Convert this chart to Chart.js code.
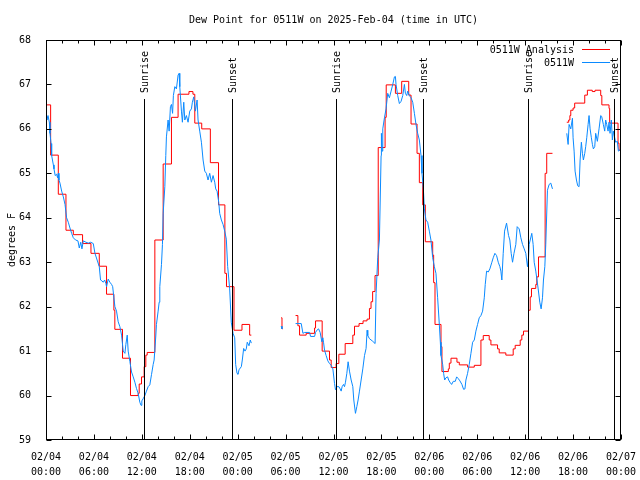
<!DOCTYPE html>
<html>
<head>
<meta charset="utf-8">
<script src="https://cdn.jsdelivr.net/npm/chart.js@4.4.1/dist/chart.umd.min.js"></script>
<style>
  html, body { margin: 0; background: #fff; }
  #wrap { width: 640px; height: 480px; }
</style>
</head>
<body>
<div id="wrap"><canvas id="dew"></canvas></div>
<script>
// hours after 02/04 00:00 UTC
const xTickDays  = ["02/04","02/04","02/04","02/04","02/05","02/05","02/05","02/05","02/06","02/06","02/06","02/06","02/07"];
const xTickTimes = ["00:00","06:00","12:00","18:00","00:00","06:00","12:00","18:00","00:00","06:00","12:00","18:00","00:00"];

const sunriseHours = [12.3, 36.33, 60.3];
const sunsetHours  = [23.25, 47.25, 71.17];

// analysis (red), step values that start at each hour mark
const analysisHours = [
  0, 0.58, 1.54, 2.5, 3.42, 4.58, 5.63, 6.67, 7.58, 8.5,
  8.62, 9.58, 10.58, 11.54, 11.67, 11.96, 12.29, 12.5, 12.67, 13.63,
  14.67, 15.71, 16.54, 17.9, 18.4, 18.63, 19.5, 20.58, 21.6, 22.4,
  22.6, 23.54, 24.54, 25.5, 25.71, 27.5, 29.45, 29.55, 29.62, 30.5,
  31.25, 31.54, 31.75, 32.58, 33.63, 33.75, 34.58, 35.5, 35.71, 36.33,
  36.67, 37.46, 38.42, 38.63, 39.2, 39.7, 40.2, 40.5, 40.7, 40.9,
  41.2, 41.6, 42.46, 42.6, 43.75, 44.54, 45.42, 45.71, 46.46, 46.75,
  47.17, 47.5, 48.42, 48.54, 48.71, 49.46, 49.58, 50.38, 50.5, 50.71,
  51.46, 51.75, 52.79, 53.63, 54.46, 54.75, 55.5, 55.71, 56.54, 56.75,
  57.58, 58.5, 58.75, 59.38, 59.58, 59.79, 60.42, 60.63, 60.79, 61.33,
  61.46, 61.67, 62.5, 62.7, 63.42, 64.3, 65.21, 65.45, 65.6, 65.71,
  66.0, 66.2, 67.46, 67.79, 68.4, 68.75, 69.46, 69.6, 70.5, 70.58,
  71.63, 71.75, 72
];
const analysisDew = [
  66.54, 65.41, 64.53, 63.72, 63.62, 63.42, 63.2, 62.91, 62.28, 61.92,
  61.49, 60.84, 60.0, 60.05, 60.26, 60.42, 60.65, 60.91, 60.97, 63.5,
  65.21, 66.26, 66.78, 66.84, 66.78, 66.13, 66.0, 65.24, 64.29, 62.75,
  62.45, 61.47, 61.6, 61.36, 61.36, null, 61.75, 61.5, 61.5, null,
  61.8, 61.57, 61.36, 61.4, 61.52, 61.68, 61.0, 60.8, 60.63, 60.72,
  60.93, 61.17, 61.36, 61.56, 61.62, 61.68, 61.72, 61.96, 62.11, 62.34,
  62.7, 65.58, 66.26, 66.99, 66.8, 67.07, 66.76, 66.11, 65.45, 64.79,
  64.29, 63.46, 63.16, 62.54, 61.6, 61.1, 60.54, 60.6, 60.73, 60.84,
  60.75, 60.69, 60.64, 60.68, 61.25, 61.35, 61.25, 61.14, 61.05, 60.96,
  60.91, 61.05, 61.13, 61.25, 61.36, 61.45, 61.92, 62.22, 62.41, 62.5,
  62.67, 63.12, 65.0, 65.45, 65.45, null, 66.15, 66.2, 66.3, 66.42,
  66.47, 66.58, 66.76, 66.87, 66.84, 66.87, 66.75, 66.54, 66.46, 66.13,
  65.68, 65.52, 65.52
];

// station observations (blue)
const observedHours = [
  0, 0.1, 0.25, 0.42, 0.5, 0.63, 0.71, 0.92, 1.0, 1.15,
  1.33, 1.45, 1.54, 1.62, 1.75, 1.96, 2.17, 2.38, 2.58, 2.79,
  3.0, 3.21, 3.42, 3.7, 4.0, 4.17, 4.35, 4.5, 4.67, 5.0,
  5.3, 5.6, 5.92, 6.13, 6.4, 6.67, 6.83, 7.0, 7.17, 7.35,
  7.5, 7.58, 7.79, 8.0, 8.21, 8.35, 8.5, 8.63, 8.83, 9.04,
  9.25, 9.46, 9.67, 9.88, 10.0, 10.17, 10.29, 10.5, 10.71, 10.92,
  11.13, 11.33, 11.54, 11.75, 11.9, 12.0, 12.17, 12.38, 12.58, 12.79,
  13.0, 13.21, 13.42, 13.54, 13.75, 13.83, 14.04, 14.17, 14.25, 14.46,
  14.58, 14.67, 14.88, 15.0, 15.08, 15.29, 15.42, 15.58, 15.71, 15.85,
  15.95, 16.13, 16.33, 16.54, 16.67, 16.75, 16.96, 17.08, 17.25, 17.38,
  17.58, 17.79, 18.0, 18.21, 18.33, 18.5, 18.71, 18.92, 19.04, 19.25,
  19.46, 19.67, 19.88, 20.08, 20.29, 20.5, 20.71, 20.92, 21.13, 21.25,
  21.42, 21.63, 21.75, 21.96, 22.17, 22.38, 22.58, 22.75, 23.0, 23.2,
  23.42, 23.63, 23.75, 23.92, 24.04, 24.17, 24.33, 24.46, 24.58, 24.75,
  24.92, 25.08, 25.2, 25.42, 25.58, 25.71, 27.5, 29.45, 29.55, 30.5,
  31.25, 31.96, 32.17, 32.38, 33.0, 33.13, 33.63, 33.75, 33.92, 34.13,
  34.33, 34.54, 34.67, 34.75, 34.88, 35.08, 35.29, 35.5, 35.71, 35.92,
  36.13, 36.25, 36.42, 36.67, 36.83, 36.96, 37.08, 37.25, 37.38, 37.5,
  37.67, 37.83, 38.0, 38.21, 38.42, 38.54, 38.75, 38.92, 39.08, 39.25,
  39.46, 39.67, 39.88, 40.08, 40.21, 40.29, 40.5, 40.92, 41.21, 41.33,
  41.54, 41.75, 41.96, 42.0, 42.08, 42.17, 42.38, 42.58, 42.79, 43.0,
  43.21, 43.42, 43.63, 43.75, 43.83, 44.04, 44.25, 44.46, 44.67, 44.88,
  45.0, 45.17, 45.29, 45.5, 45.71, 45.92, 46.13, 46.33, 46.54, 46.75,
  46.96, 47.08, 47.25, 47.38, 47.58, 47.79, 48.0, 48.2, 48.42, 48.63,
  48.83, 49.04, 49.25, 49.38, 49.46, 49.67, 49.79, 49.92, 50.08, 50.29,
  50.42, 50.58, 50.79, 51.0, 51.25, 51.42, 51.63, 51.83, 52.08, 52.29,
  52.46, 52.58, 52.79, 53.0, 53.21, 53.42, 53.63, 53.83, 54.04, 54.25,
  54.46, 54.67, 54.88, 55.0, 55.17, 55.38, 55.58, 55.83, 56.0, 56.21,
  56.42, 56.63, 56.83, 56.96, 57.08, 57.25, 57.42, 57.67, 57.92, 58.08,
  58.25, 58.42, 58.6, 58.83, 59.0, 59.25, 59.46, 59.67, 59.88, 60.08,
  60.29, 60.42, 60.5, 60.83, 61.0, 61.13, 61.33, 61.63, 61.83, 62.0,
  62.17, 62.29, 62.46, 62.58, 62.79, 63.0, 63.21, 63.42, 64.3,
  65.21, 65.38, 65.5, 65.71, 65.92, 66.0, 66.13, 66.25, 66.42, 66.58,
  66.75, 66.88, 67.04, 67.17, 67.29, 67.46, 67.58, 67.71, 67.88, 68.0,
  68.13, 68.29, 68.42, 68.54, 68.71, 68.83, 69.04, 69.25, 69.46, 69.58,
  69.79, 69.96, 70.08, 70.21, 70.38, 70.5, 70.63, 70.79, 70.92, 71.04,
  71.21, 71.33, 71.54, 71.67, 72
];
const observedDew = [
  66.27, 66.2, 66.3, 66.15, 65.9, 65.67, 65.4, 65.19, 65.1, 64.95,
  64.98, 64.9, 65.0, 64.85, 64.78, 64.6, 64.47, 64.3, 64.0, 63.9,
  63.77, 63.65, 63.55, 63.5, 63.48, 63.32, 63.45, 63.3, 63.48, 63.45,
  63.43, 63.45, 63.42, 63.2, 63.05, 62.9, 62.6, 62.58, 62.55, 62.6,
  62.52, 62.45, 62.62, 62.55, 62.5, 62.45, 62.2, 62.0, 61.9, 61.66,
  61.55, 61.36, 61.0, 60.95, 61.15, 61.36, 61.0, 60.77, 60.53, 60.42,
  60.3, 60.16, 60.05, 59.85, 59.78, 59.88, 59.93, 60.0, 60.1, 60.2,
  60.24, 60.47, 60.7, 60.8, 61.34, 61.6, 61.9, 62.1, 62.45, 62.95,
  63.4, 64.1, 64.7, 65.4, 65.82, 66.2, 65.95, 66.5, 66.55, 66.35,
  66.75, 66.95, 66.9, 67.21, 67.25, 66.95, 66.4, 66.15, 66.6, 66.2,
  66.3, 66.15, 66.4, 66.45, 66.6, 66.72, 66.4, 66.65, 66.2, 65.95,
  65.7, 65.3, 65.05, 65.0, 64.85, 65.0, 64.8, 64.95, 64.8, 64.65,
  64.6, 64.35, 64.1, 63.95, 63.85, 63.7, 63.52, 62.9, 62.4, 61.65,
  61.4, 61.3, 60.7, 60.5, 60.48, 60.58, 60.62, 60.65, 60.8, 61.06,
  61.0, 61.05, 61.2, 61.12, 61.25, 61.18, null, 61.56, 61.5, null,
  61.62, 61.62, 61.4, 61.42, 61.42, 61.33, 61.33, 61.42, 61.47, 61.5,
  61.42, 61.21, 61.3, 61.2, 61.02, 60.9, 60.78, 60.72, 60.68, 60.6,
  60.27, 60.13, 60.2, 60.2, 60.15, 60.1, 60.2, 60.25, 60.2, 60.3,
  60.5, 60.76, 60.55, 60.35, 60.2, 59.9, 59.6, 59.75, 59.9, 60.1,
  60.35, 60.6, 60.9, 61.06, 61.47, 61.35, 61.28, 61.22, 61.17, 62.3,
  63.1, 63.5, 65.4, 65.9, 65.5, 66.0, 66.25, 66.45, 66.8, 66.7,
  66.85, 67.0, 67.17, 67.18, 67.0, 66.75, 66.57, 66.62, 66.75, 67.0,
  66.8, 66.75, 66.85, 66.75, 66.7, 66.6, 66.35, 66.1, 65.9, 65.75,
  65.4, 65.0, 64.65, 64.2, 63.95, 63.9, 63.7, 63.5, 63.1, 62.9,
  62.75, 62.2, 61.6, 61.2, 60.9, 60.7, 60.5, 60.35, 60.4, 60.42,
  60.35, 60.3, 60.25, 60.32, 60.32, 60.42, 60.38, 60.33, 60.25, 60.14,
  60.15, 60.35, 60.5, 60.7, 60.95, 61.2, 61.25, 61.45, 61.6, 61.75,
  61.8, 61.9, 62.2, 62.5, 62.8, 62.78, 62.85, 63.0, 63.1, 63.2,
  63.15, 63.0, 62.9, 62.8, 62.6, 63.2, 63.7, 63.88, 63.6, 63.5,
  63.2, 63.0, 63.2, 63.4, 63.8, 63.75, 63.55, 63.4, 63.3, 63.2,
  62.9, 63.1, 63.4, 63.65, 63.4, 63.0, 62.8, 62.4, 62.1, 61.95,
  62.2, 62.6, 62.9, 63.4, 64.62, 64.75, 64.78, 64.65, null,
  65.9, 65.65, 66.1, 66.0, 66.24, 65.8, 65.5, 65.05, 64.85, 64.72,
  64.7, 65.3, 65.7, 65.45, 65.3, 65.45, 65.6, 65.8, 66.1, 66.3,
  66.0, 65.8, 65.65, 65.55, 65.6, 65.9, 65.72, 66.0, 66.3, 66.28,
  66.1, 65.95, 66.2, 66.1, 65.95, 66.15, 65.9, 66.2, 65.75, 65.95,
  65.8, 65.7, 65.72, 65.5, 65.55
];

const FONT = "'DejaVu Sans Mono', 'Liberation Mono', monospace";
const RED = "#ff0000";
const BLUE = "#0a8aff";

function toPoints(hours, values) {
  return hours.map(function (h, i) { return { x: h, y: values[i] }; });
}

const gnuplotFrame = {
  id: "gnuplotFrame",
  beforeDraw: function (chart) {
    const ctx = chart.ctx;
    ctx.save();
    ctx.fillStyle = "#fff";
    ctx.fillRect(0, 0, chart.width, chart.height);
    ctx.restore();
  },
  afterDatasetsDraw: function (chart) {
    const ctx = chart.ctx, a = chart.chartArea;
    const xs = chart.scales.x, ys = chart.scales.y;
    ctx.save();
    ctx.strokeStyle = "#000";
    ctx.fillStyle = "#000";
    ctx.lineWidth = 1;
    ctx.font = "10px " + FONT;

    // sunrise / sunset markers
    function marker(h, label) {
      const px = Math.round(xs.getPixelForValue(h)) + 0.5;
      ctx.beginPath();
      ctx.moveTo(px, 99);
      ctx.lineTo(px, a.bottom);
      ctx.stroke();
      ctx.save();
      ctx.translate(px + 1, 93);
      ctx.rotate(-Math.PI / 2);
      ctx.textAlign = "left";
      ctx.textBaseline = "middle";
      ctx.fillText(label, 0, 0);
      ctx.restore();
    }
    sunriseHours.forEach(function (h) { marker(h, "Sunrise"); });
    sunsetHours.forEach(function (h) { marker(h, "Sunset"); });

    // border
    const L = a.left + 0.5, R = a.right - 0.5, T = a.top + 0.5, B = a.bottom - 0.5;
    ctx.strokeRect(L, T, R - L, B - T);

    // x ticks (major every 6 h, minor every 2 h), mirrored on top
    ctx.beginPath();
    for (let h = 0; h <= 72; h += 2) {
      const px = Math.round(xs.getPixelForValue(h)) + 0.5;
      const len = (h % 6 === 0) ? 5 : 3;
      ctx.moveTo(px, B); ctx.lineTo(px, B - len);
      ctx.moveTo(px, T); ctx.lineTo(px, T + len);
    }
    // y ticks, mirrored on right
    for (let v = 59; v <= 68; v++) {
      const py = Math.round(ys.getPixelForValue(v)) + 0.5;
      ctx.moveTo(L, py); ctx.lineTo(L + 5, py);
      ctx.moveTo(R, py); ctx.lineTo(R - 5, py);
    }
    ctx.stroke();

    // key
    ctx.textAlign = "right";
    ctx.textBaseline = "middle";
    ctx.fillText("0511W Analysis", 574, 50);
    ctx.fillText("0511W", 574, 63);
    ctx.lineWidth = 1;
    ctx.strokeStyle = RED;
    ctx.beginPath(); ctx.moveTo(582, 49.5); ctx.lineTo(610, 49.5); ctx.stroke();
    ctx.strokeStyle = BLUE;
    ctx.beginPath(); ctx.moveTo(582, 62.5); ctx.lineTo(610, 62.5); ctx.stroke();

    // title and y label
    ctx.textAlign = "center";
    ctx.fillText("Dew Point for 0511W on 2025-Feb-04 (time in UTC)", (a.left + a.right) / 2, 20);
    ctx.save();
    ctx.translate(12, 240);
    ctx.rotate(-Math.PI / 2);
    ctx.fillText("degrees F", 0, 0);
    ctx.restore();
    ctx.restore();
  }
};

new Chart(document.getElementById("dew"), {
  type: "line",
  data: {
    datasets: [
      {
        label: "0511W Analysis",
        data: toPoints(analysisHours, analysisDew),
        borderColor: RED,
        borderWidth: 1,
        stepped: true,
        pointRadius: 0,
        spanGaps: false,
        order: 2
      },
      {
        label: "0511W",
        data: toPoints(observedHours, observedDew),
        borderColor: BLUE,
        borderWidth: 1,
        pointRadius: 0,
        tension: 0,
        spanGaps: false,
        order: 1
      }
    ]
  },
  options: {
    responsive: true,
    maintainAspectRatio: false,
    animation: false,
    layout: { padding: { top: 40, right: 19, left: 0, bottom: 0 } },
    plugins: { legend: { display: false }, tooltip: { enabled: false }, title: { display: false } },
    scales: {
      x: {
        type: "linear", min: 0, max: 72,
        grid: { display: false }, border: { display: false },
        afterFit: function (s) { s.height = 40; },
        ticks: {
          stepSize: 6, autoSkip: false, maxRotation: 0, padding: 2, color: "#000",
          font: { family: FONT, size: 10, lineHeight: 1.5 },
          callback: function (v) {
            const i = Math.round(v / 6);
            return [xTickDays[i], xTickTimes[i]];
          }
        }
      },
      y: {
        min: 59, max: 68,
        grid: { display: false }, border: { display: false },
        afterFit: function (s) { s.width = 46; },
        ticks: {
          stepSize: 1, padding: 7, color: "#000",
          font: { family: FONT, size: 10 }
        }
      }
    }
  },
  plugins: [gnuplotFrame]
});
</script>
</body>
</html>
